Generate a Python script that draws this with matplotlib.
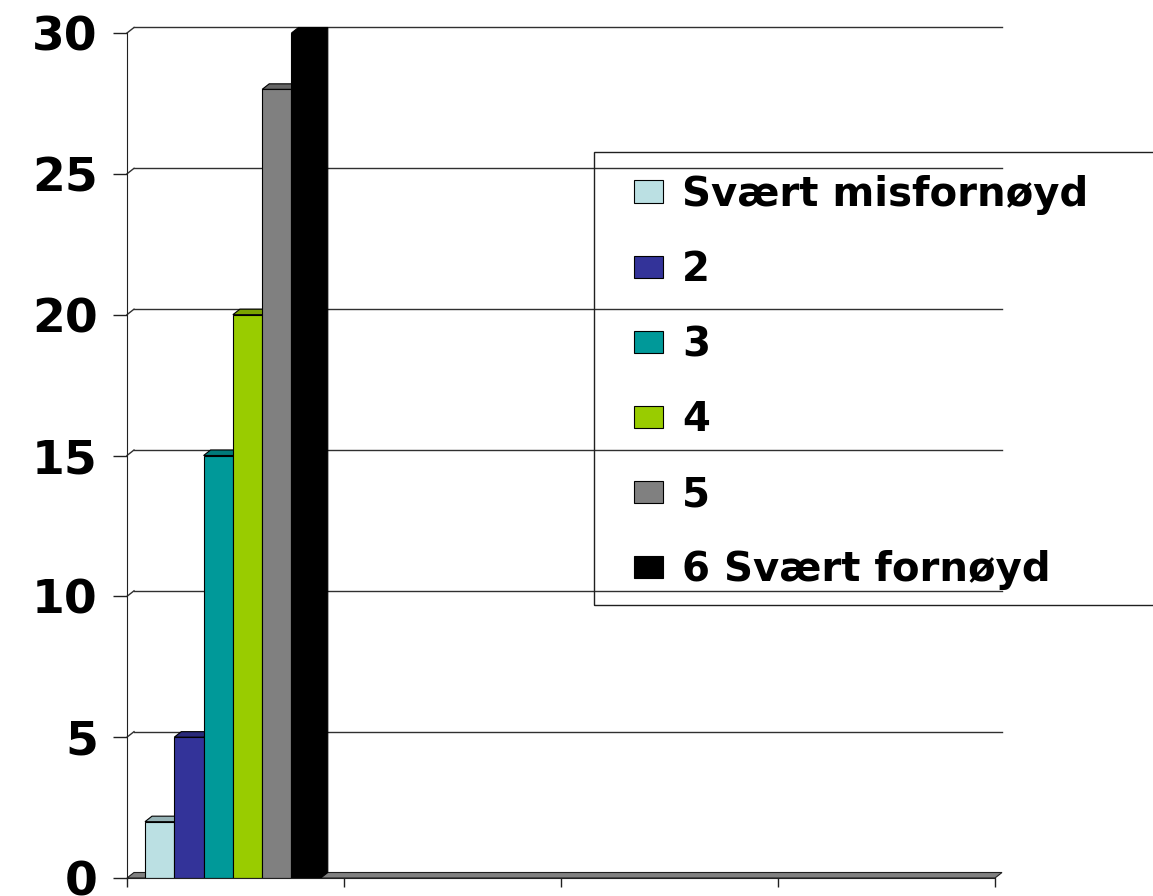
import matplotlib
matplotlib.use("Agg")
import matplotlib.pyplot as plt
from matplotlib.patches import Polygon, Rectangle, Patch
import matplotlib.colors as mcolors

# ---- data ----
series_names = ["Svært misfornøyd", "2", "3", "4", "5", "6 Svært fornøyd"]
values = [2, 5, 15, 20, 28, 30]
colors = ["#BBE0E3", "#333399", "#009999", "#99CC00", "#808080", "#000000"]
n_categories = 4
y_ticks = [0, 5, 10, 15, 20, 25, 30]

plt.rcParams['font.family'] = ['DejaVu Sans']

W, H = 1153, 896
fig = plt.figure(figsize=(W / 100, H / 100), dpi=100)
ax = fig.add_axes([127 / W, 1 - 878 / H, (995 - 127) / W, (878 - 33) / H])
ax.set_xlim(0, n_categories)
ax.set_ylim(0, 30)

# 3D depth offset (in data units)
dx = 7 / 217
dy = 5.5 / (845 / 30)

def darker(c, f=0.7):
    r, g, b = mcolors.to_rgb(c)
    return (r * f, g * f, b * f)

# back-wall gridlines with diagonal connectors
for v in y_ticks[1:]:
    ax.plot([dx, n_categories + dx], [v + dy, v + dy], color="#303030", lw=1.0,
            zorder=1, clip_on=False)
    ax.plot([0, dx], [v, v + dy], color="#303030", lw=1.0, zorder=1, clip_on=False)

# floor
floor = Polygon([(0, 0), (n_categories, 0), (n_categories + dx, dy), (dx, dy)],
                closed=True, facecolor="#808080", edgecolor="#202020", lw=0.8,
                zorder=2, clip_on=False)
ax.add_patch(floor)

# bars
group_start = 0.083
bar_w = 0.135
for i, (v, c) in enumerate(zip(values, colors)):
    x = group_start + i * bar_w
    z = 3 + i
    ax.bar(x, v, width=bar_w, align="edge", color=c, edgecolor="black",
           linewidth=0.8, zorder=z + 0.5)
    side = Polygon([(x + bar_w, 0), (x + bar_w + dx, dy), (x + bar_w + dx, v + dy),
                    (x + bar_w, v)], closed=True, facecolor=darker(c),
                   edgecolor="black", lw=0.8, zorder=z, clip_on=False)
    top = Polygon([(x, v), (x + dx, v + dy), (x + bar_w + dx, v + dy), (x + bar_w, v)],
                  closed=True, facecolor=darker(c, 0.8), edgecolor="black", lw=0.8,
                  zorder=z + 0.6, clip_on=False)
    ax.add_patch(side)
    ax.add_patch(top)

# axes styling
for s in ["top", "right"]:
    ax.spines[s].set_visible(False)
ax.spines["left"].set_color("#202020")
ax.spines["bottom"].set_color("#202020")
ax.spines["left"].set_zorder(20)
ax.spines["bottom"].set_zorder(20)
ax.set_yticks(y_ticks)
ax.set_yticklabels([str(t) for t in y_ticks], fontsize=34, fontweight="bold")
ax.set_xticks(range(n_categories + 1))
ax.set_xticklabels([])
ax.tick_params(axis="y", direction="out", length=10, width=1, pad=11, color="#202020")
ax.tick_params(axis="x", direction="out", length=6.5, width=1, color="#202020")

# legend
handles = [Patch(facecolor=c, edgecolor="black", linewidth=0.8) for c in colors]
leg = fig.legend(handles, series_names, loc="upper left",
                 bbox_to_anchor=(634 / W, 1 - 175 / H), bbox_transform=fig.transFigure,
                 frameon=False, borderpad=0, borderaxespad=0,
                 prop={"weight": "bold", "size": 29},
                 handlelength=0.72, handleheight=0.48, handletextpad=0.48,
                 labelspacing=0.87)
fig.patches.append(Rectangle((594 / W, 1 - 605 / H), (1170 - 594) / W, (605 - 152) / H,
                             transform=fig.transFigure, fill=False,
                             edgecolor="#202020", lw=1.0))

fig.savefig("out.png", dpi=100)
